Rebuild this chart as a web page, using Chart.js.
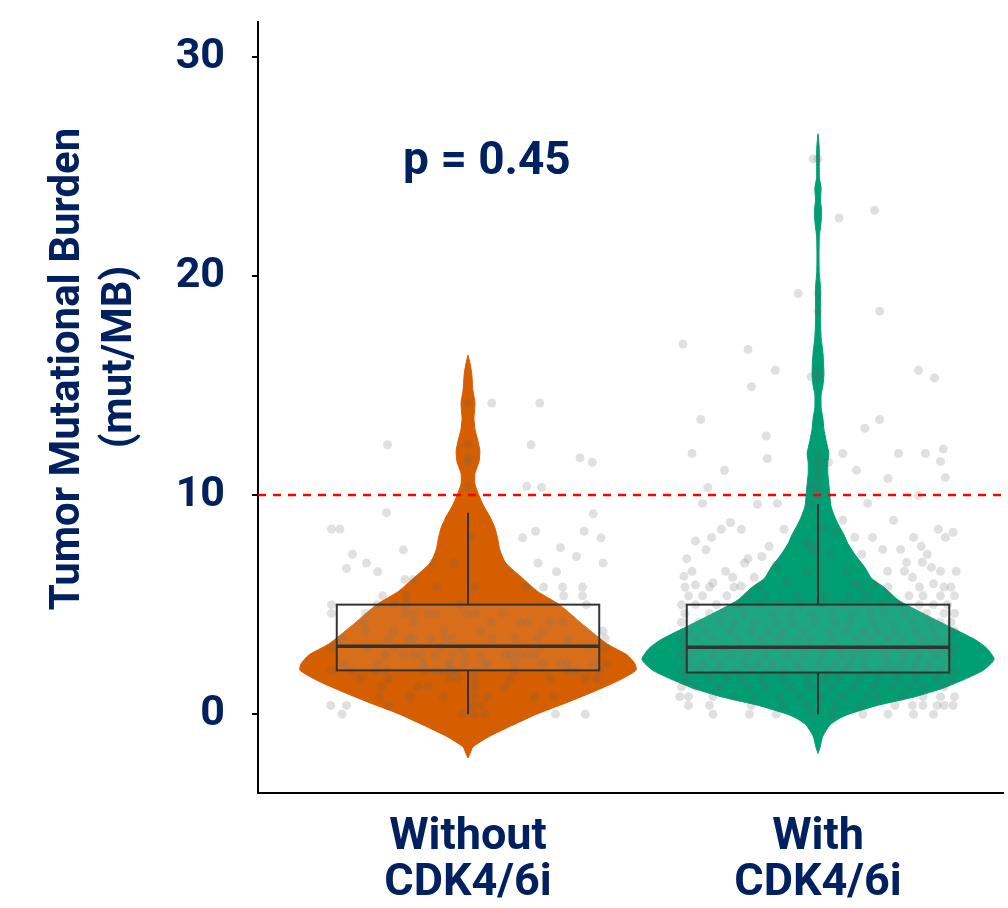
<!DOCTYPE html>
<html>
<head>
<meta charset="utf-8">
<title>TMB by CDK4/6i</title>
<script src="https://cdn.jsdelivr.net/npm/chart.js"></script>
<style>
    html, body { margin: 0; padding: 0; background: #fff; }
    #wrap { width: 1008px; height: 908px; }
</style>
</head>
<body>
<div id="wrap"><canvas id="tmbChart"></canvas></div>
<script>
    const groupLabels = [['Without', 'CDK4/6i'], ['With', 'CDK4/6i']];
    const groupPos = [1, 2];
    const yTicks = [0, 10, 20, 30];
    const cutoff = 10;
    const pLabel = 'p = 0.45';

    // violin outline: tmb level -> half width (x units)
    const violinY0 = [-2.0, -1.8, -1.5, -1.05, -0.5, 0, 0.5, 1.0, 1.5, 2.0, 2.3, 2.7, 3.2, 4.0, 5.0, 5.6, 6.2, 6.9, 7.5, 8.0, 8.5, 9.0, 9.5, 10.0, 10.5, 11.0, 11.5, 12.0, 12.5, 13.0, 13.5, 14.2, 14.8, 15.5, 16.0, 16.4];
    const violinW0 = [0, 0.006, 0.014, 0.057, 0.128, 0.196, 0.278, 0.355, 0.426, 0.48, 0.477, 0.455, 0.398, 0.335, 0.261, 0.199, 0.156, 0.108, 0.091, 0.085, 0.077, 0.063, 0.045, 0.031, 0.02, 0.02, 0.031, 0.034, 0.028, 0.02, 0.017, 0.02, 0.014, 0.011, 0.006, 0];
    const violinY1 = [-1.8, -1.5, -1.0, -0.5, -0.2, 0, 0.4, 0.8, 1.2, 1.6, 2.0, 2.5, 3.0, 3.4, 4.0, 4.6, 5.2, 5.8, 6.2, 6.7, 7.3, 7.8, 8.2, 8.6, 9.0, 9.5, 10.0, 10.5, 11.0, 11.5, 11.9, 12.5, 13.0, 13.5, 14.0, 14.6, 15.0, 15.5, 16.0, 16.5, 17.2, 18.0, 18.8, 19.5, 20.2, 21.0, 21.8, 22.5, 23.0, 23.5, 24.0, 24.5, 25.5, 26.0, 26.5];
    const violinW1 = [0, 0.006, 0.014, 0.034, 0.06, 0.088, 0.17, 0.278, 0.36, 0.42, 0.472, 0.503, 0.483, 0.449, 0.375, 0.3, 0.23, 0.188, 0.153, 0.134, 0.105, 0.085, 0.074, 0.06, 0.048, 0.037, 0.034, 0.031, 0.028, 0.028, 0.031, 0.023, 0.017, 0.014, 0.009, 0.009, 0.014, 0.017, 0.016, 0.014, 0.009, 0.007, 0.007, 0.007, 0.0035, 0.003, 0.004, 0.009, 0.01, 0.007, 0.009, 0.004, 0.004, 0.003, 0];

    // box stats: [low whisker, q1, median, q3, high whisker]
    const box0 = [0, 2.0, 3.1, 5.0, 9.2];
    const box1 = [0, 1.9, 3.05, 5.0, 9.6];
    const boxHalf = 0.375;

    // jittered samples: [offset from group centre, tmb]
    const pts0 = [
        [0.068,14.2],[0.205,14.2],[0,14.2],[-0.23,12.3],[0.18,12.3],[0,12.3],[0.32,11.7],[0.355,11.5],[0,11.7],[0,11.5],
        [0.168,10.4],[0.21,10.35],[0,10.4],[-0.233,9.2],[0.358,9.15],[-0.39,8.45],[-0.366,8.45],[0.332,8.35],[0.193,8.35],
        [0.156,8.05],[0.38,8.05],[0.01,8.1],[-0.185,7.5],[0.264,7.6],[0.31,7.2],[-0.33,7.3],[-0.29,6.9],[0.2,6.9],[0.386,6.9],
        [-0.1,6.9],[-0.04,6.9],[-0.347,6.65],[-0.258,6.5],[0.253,6.5],[-0.18,6.15],[-0.156,6.15],[0.216,5.8],
        [-0.09,5.8],[0.02,5.8],[0.165,5.8],[0.27,5.8],[0.327,5.8],
        [-0.244,5.4],[-0.176,5.4],[0.327,5.4],[0.273,5.4],
        [-0.39,5.0],[-0.26,5.0],[-0.213,5.0],[-0.176,5.0],[-0.023,5.0],[0.338,5.0],
        [-0.39,4.6],[-0.293,4.6],[-0.179,4.6],[-0.156,4.6],[-0.114,4.6],[-0.091,4.6],[-0.003,4.6],[0.02,4.6],[0.1,4.6],
        [-0.298,4.2],[-0.156,4.2],[0.065,4.2],[0.148,4.2],[0.17,4.2],[0.236,4.2],[0.27,4.2],
        [-0.293,3.8],[-0.213,3.8],[-0.071,3.8],[0.037,3.8],[0.213,3.8],[0.386,3.8],
        [-0.36,3.45],[-0.227,3.45],[-0.17,3.45],[-0.156,3.45],[-0.105,3.45],[-0.065,3.45],[-0.043,3.45],[0.071,3.45],[0.134,3.45],[0.199,3.45],[0.287,3.45],[0.392,3.45],
        [-0.39,3.05],[-0.29,3.05],[-0.21,3.05],[-0.077,3.05],[-0.02,3.05],[0.207,3.05],[0.344,3.05],[0.392,3.05],
        [-0.236,2.7],[-0.185,2.7],[-0.156,2.7],[-0.134,2.7],[-0.094,2.7],[-0.043,2.7],[-0.009,2.7],[0.037,2.7],[0.108,2.7],[0.122,2.7],[0.148,2.7],[0.17,2.7],[0.19,2.7],
        [-0.355,2.3],[-0.256,2.3],[-0.128,2.3],[-0.057,2.3],[-0.048,2.3],[-0.009,2.3],[0.043,2.3],[0.057,2.3],[0.134,2.3],[0.213,2.3],[0.264,2.3],[0.284,2.3],[0.361,2.3],[0.398,2.3],
        [-0.392,2.0],[-0.335,2.0],[-0.264,2.0],[-0.233,2.0],[-0.122,2.0],[-0.094,2.0],[-0.077,2.0],[-0.051,2.0],[-0.034,2.0],[0.02,2.0],[0.134,2.0],[0.284,2.0],[0.307,2.0],[0.375,2.0],
        [-0.307,1.6],[-0.227,1.6],[-0.051,1.6],[-0.028,1.6],[0.02,1.6],[0.122,1.6],[0.236,1.6],[0.335,1.6],[0.369,1.6],
        [-0.247,1.25],[-0.145,1.25],[-0.114,1.25],[0.02,1.25],[0.105,1.25],
        [-0.253,0.8],[-0.165,0.8],[-0.071,0.8],[0.02,0.8],[0.057,0.8],[0.19,0.8],[0.244,0.8],
        [-0.392,0.4],[-0.347,0.4],[-0.227,0.4],[0.011,0.4],[0.034,0.4],
        [-0.36,0],[-0.014,0],[0.014,0],[0.048,0],[0.25,0],[0.335,0]
    ];
    const pts1 = [
        [-0.014,25.35],[0,25.35],[0.162,23.0],[0.06,22.65],[-0.057,19.2],[0,19.2],[0.176,18.4],[0,18.4],[-0.386,16.9],[-0.2,16.65],
        [-0.122,15.7],[-0.19,14.95],[0.287,15.7],[0.333,15.35],[-0.02,15.4],[0,15.4],[0,15.7],[-0.335,13.45],[0.176,13.45],[0.134,13.05],
        [-0.148,12.7],[-0.36,11.9],[-0.145,11.67],[0.071,11.9],[0.23,11.9],[0.307,11.9],[0.358,12.1],[0.35,11.54],[0.364,10.8],[-0.267,11.13],
        [0.11,11.13],[0.2,10.76],[-0.315,10.35],[-0.33,9.62],[-0.173,9.58],[-0.116,9.62],[0.142,9.62],[0.287,9.99],[0,11.9],[0,11.5],
        [0,11.1],[0,10.76],[0,10.35],[-0.02,10.35],[0,10.0],[-0.02,9.6],[0.03,11.5],
        [-0.25,8.75],[-0.276,8.44],[-0.219,8.44],[-0.097,8.44],[0.071,8.85],[0.216,8.85],[0.344,8.44],[0.386,8.3],[0.364,8.07],[-0.35,7.9],
        [-0.304,8.07],[-0.14,7.66],[0.105,8.07],[0.156,8.07],[0.273,8.07],[0.295,7.66],[0.185,7.52],[0.236,7.52],[0.125,7.3],[0.312,7.3],
        [-0.375,7.1],[-0.2,7.1],[-0.21,6.9],[0.253,6.93],[0.298,6.93],[0.324,6.7],[0.35,6.52],[0.395,6.52],[-0.36,6.52],[-0.264,6.52],
        [0.199,6.52],[0.247,6.52],[0.27,6.25],[-0.383,6.3],[-0.244,6.25],[-0.182,6.25],[-0.037,7.9],[-0.025,7.7],[-0.014,7.5],[0.034,7.3],
        [0.017,8.5],[0.05,8.3],[-0.034,6.52],[0.08,6.52],
        [-0.32,7.5],[-0.16,7.2],[-0.12,6.8],[-0.3,6.0],[-0.35,5.9],[-0.22,5.85],[-0.09,6.1],[0.1,6.0],[0.16,5.9],[0.33,5.95],[0.38,5.8],
        [-0.38,5.8],[-0.31,5.8],[-0.24,5.8],[-0.17,5.8],[0.12,5.8],[0.2,5.8],[0.29,5.8],[0.36,5.8],
        [-0.37,5.4],[-0.33,5.4],[-0.26,5.4],[-0.2,5.4],[-0.15,5.4],[-0.06,5.4],[0.02,5.4],[0.09,5.4],[0.14,5.4],[0.2,5.4],[0.26,5.4],[0.3,5.4],[0.35,5.4],[0.39,5.4],
        [-0.39,5.0],[-0.35,5.0],[-0.29,5.0],[-0.22,5.0],[-0.17,5.0],[-0.11,5.0],[-0.05,5.0],[0.01,5.0],[0.07,5.0],[0.12,5.0],[0.18,5.0],[0.23,5.0],[0.29,5.0],[0.33,5.0],[0.37,5.0],
        [-0.38,4.6],[-0.31,4.6],[-0.27,4.6],[-0.21,4.6],[-0.13,4.6],[-0.08,4.6],[-0.02,4.6],[0.04,4.6],[0.1,4.6],[0.15,4.6],[0.19,4.6],[0.25,4.6],[0.31,4.6],[0.36,4.6],[0.39,4.6],
        [-0.39,4.2],[-0.34,4.2],[-0.28,4.2],[-0.24,4.2],[-0.18,4.2],[-0.12,4.2],[-0.07,4.2],[-0.01,4.2],[0.05,4.2],[0.09,4.2],[0.16,4.2],[0.21,4.2],[0.27,4.2],[0.32,4.2],[0.35,4.2],[0.38,4.2],
        [-0.37,3.8],[-0.32,3.8],[-0.25,3.8],[-0.19,3.8],[-0.14,3.8],[-0.1,3.8],[-0.04,3.8],[0.03,3.8],[0.08,3.8],[0.13,3.8],[0.17,3.8],[0.22,3.8],[0.28,3.8],[0.33,3.8],[0.39,3.8],
        [-0.39,3.45],[-0.35,3.45],[-0.3,3.45],[-0.23,3.45],[-0.16,3.45],[-0.11,3.45],[-0.06,3.45],[-0.02,3.45],[0.04,3.45],[0.11,3.45],[0.15,3.45],[0.2,3.45],[0.24,3.45],[0.3,3.45],[0.34,3.45],[0.37,3.45],
        [-0.38,3.05],[-0.33,3.05],[-0.27,3.05],[-0.22,3.05],[-0.18,3.05],[-0.12,3.05],[-0.08,3.05],[-0.03,3.05],[0.02,3.05],[0.06,3.05],[0.12,3.05],[0.18,3.05],[0.23,3.05],[0.27,3.05],[0.32,3.05],[0.36,3.05],[0.39,3.05],
        [-0.39,2.7],[-0.36,2.7],[-0.3,2.7],[-0.25,2.7],[-0.2,2.7],[-0.15,2.7],[-0.09,2.7],[-0.04,2.7],[0.01,2.7],[0.07,2.7],[0.1,2.7],[0.14,2.7],[0.19,2.7],[0.25,2.7],[0.29,2.7],[0.34,2.7],[0.38,2.7],
        [-0.37,2.3],[-0.33,2.3],[-0.28,2.3],[-0.21,2.3],[-0.17,2.3],[-0.13,2.3],[-0.06,2.3],[0,2.3],[0.05,2.3],[0.09,2.3],[0.13,2.3],[0.2,2.3],[0.24,2.3],[0.28,2.3],[0.32,2.3],[0.37,2.3],
        [-0.39,2.0],[-0.34,2.0],[-0.29,2.0],[-0.24,2.0],[-0.19,2.0],[-0.14,2.0],[-0.1,2.0],[-0.05,2.0],[0.03,2.0],[0.08,2.0],[0.14,2.0],[0.18,2.0],[0.22,2.0],[0.27,2.0],[0.31,2.0],[0.35,2.0],[0.39,2.0],
        [-0.38,1.6],[-0.31,1.6],[-0.26,1.6],[-0.22,1.6],[-0.16,1.6],[-0.1,1.6],[-0.03,1.6],[0.02,1.6],[0.06,1.6],[0.12,1.6],[0.17,1.6],[0.23,1.6],[0.28,1.6],[0.34,1.6],[0.38,1.6],
        [-0.39,1.25],[-0.35,1.25],[-0.28,1.25],[-0.2,1.25],[-0.15,1.25],[-0.08,1.25],[-0.02,1.25],[0.04,1.25],[0.1,1.25],[0.16,1.25],[0.21,1.25],[0.26,1.25],[0.3,1.25],[0.36,1.25],
        [-0.395,0.8],[-0.37,0.8],[-0.3,0.8],[-0.24,0.8],[-0.18,0.8],[-0.11,0.8],[-0.05,0.8],[0.01,0.8],[0.07,0.8],[0.14,0.8],[0.17,0.8],[0.24,0.8],[0.3,0.8],[0.35,0.8],[0.39,0.8],
        [-0.37,0.4],[-0.31,0.4],[-0.19,0.4],[-0.1,0.4],[-0.03,0.4],[0.05,0.4],[0.12,0.4],[0.22,0.4],[0.27,0.4],[0.3,0.4],[0.34,0.4],[0.36,0.4],[0.386,0.4],
        [-0.3,0],[-0.196,0],[-0.12,0],[-0.02,0],[0.04,0],[0.128,0],[0.2,0],[0.273,0],[0.33,0]
    ];

    const navy = '#002060';
    const fillColors = ['#D55E00', '#009E73'];
    const dotColor = 'rgba(100,100,100,0.2)';

    function outline(c, ys, ws) {
        const right = ys.map((y, i) => ({ x: c + ws[i], y: y }));
        const left = ys.map((y, i) => ({ x: c - ws[i], y: y })).reverse();
        return right.concat(left);
    }

    function dots(c, pts) {
        return pts.map(p => ({ x: c + p[0], y: p[1] }));
    }

    const boxes = [box0, box1];

    // box + whiskers, drawn over the violins and dots
    const boxPlugin = {
        id: 'boxes',
        afterDatasetsDraw(chart) {
            const { ctx, scales: { x, y } } = chart;
            ctx.save();
            ctx.strokeStyle = '#333333';
            boxes.forEach((b, i) => {
                const cx = x.getPixelForValue(groupPos[i]);
                const l = x.getPixelForValue(groupPos[i] - boxHalf);
                const r = x.getPixelForValue(groupPos[i] + boxHalf);
                const [lo, q1, med, q3, hi] = b.map(v => y.getPixelForValue(v));
                ctx.lineWidth = 2;
                ctx.beginPath();
                ctx.moveTo(cx, q3); ctx.lineTo(cx, hi);
                ctx.moveTo(cx, q1); ctx.lineTo(cx, lo);
                ctx.stroke();
                ctx.fillStyle = 'rgba(255,255,255,0.1)';
                ctx.fillRect(l, q3, r - l, q1 - q3);
                ctx.strokeRect(l, q3, r - l, q1 - q3);
                ctx.lineWidth = 3.5;
                ctx.beginPath();
                ctx.moveTo(l, med); ctx.lineTo(r, med);
                ctx.stroke();
            });
            ctx.restore();
        },
        afterDraw(chart) {
            const { ctx, scales: { x, y } } = chart;
            ctx.save();
            ctx.fillStyle = navy;
            ctx.textAlign = 'center';
            ctx.textBaseline = 'middle';
            ctx.font = 'bold 46px Roboto';
            ctx.fillText(pLabel, x.getPixelForValue(1.054), y.getPixelForValue(25.2));

            // y title, two lines
            ctx.font = 'bold 42px Roboto';
            ctx.translate(68, 369);
            ctx.rotate(-Math.PI / 2);
            ctx.fillText('Tumor Mutational Burden', 0, 0);
            ctx.fillText('(mut/MB)', 12, 52);
            ctx.restore();
        }
    };

    new Chart(document.getElementById('tmbChart'), {
        type: 'scatter',
        data: {
            datasets: [
                {
                    label: 'cutoff',
                    data: [{ x: 0.4, y: cutoff }, { x: 2.53, y: cutoff }],
                    showLine: true,
                    borderColor: '#ff0000',
                    borderWidth: 2.5,
                    borderDash: [8, 7],
                    pointRadius: 0,
                    order: 0
                },
                {
                    label: 'Without dots',
                    data: dots(groupPos[0], pts0),
                    pointRadius: 4.5,
                    pointBorderWidth: 0,
                    backgroundColor: dotColor,
                    order: 1
                },
                {
                    label: 'With dots',
                    data: dots(groupPos[1], pts1),
                    pointRadius: 4.5,
                    pointBorderWidth: 0,
                    backgroundColor: dotColor,
                    order: 1
                },
                {
                    label: 'Without',
                    data: outline(groupPos[0], violinY0, violinW0),
                    showLine: true,
                    fill: 'shape',
                    backgroundColor: fillColors[0],
                    borderColor: fillColors[0],
                    borderWidth: 1,
                    tension: 0.2,
                    pointRadius: 0,
                    order: 3
                },
                {
                    label: 'With',
                    data: outline(groupPos[1], violinY1, violinW1),
                    showLine: true,
                    fill: 'shape',
                    backgroundColor: fillColors[1],
                    borderColor: fillColors[1],
                    borderWidth: 1,
                    tension: 0.2,
                    pointRadius: 0,
                    order: 3
                }
            ]
        },
        options: {
            responsive: true,
            maintainAspectRatio: false,
            animation: false,
            events: [],
            layout: { padding: { top: 22, right: 0, left: 0, bottom: 0 } },
            plugins: {
                legend: { display: false },
                tooltip: { enabled: false }
            },
            scales: {
                x: {
                    type: 'linear',
                    min: 0.4,
                    max: 2.53,
                    afterBuildTicks: s => { s.ticks = groupPos.map(v => ({ value: v })); },
                    afterFit: s => { s.height = 115; s.paddingLeft = 0; s.paddingRight = 0; },
                    grid: { display: false, drawTicks: false },
                    border: { display: true, color: '#000', width: 2 },
                    ticks: {
                        autoSkip: false,
                        maxRotation: 0,
                        padding: 22,
                        color: navy,
                        font: { family: 'Roboto', size: 45, weight: 'bold', lineHeight: 1.02 },
                        callback: v => groupLabels[groupPos.indexOf(v)]
                    }
                },
                y: {
                    min: -3.6,
                    max: 31.6,
                    afterBuildTicks: s => { s.ticks = yTicks.map(v => ({ value: v })); },
                    afterFit: s => { s.width = 258; s.paddingTop = 0; s.paddingBottom = 0; },
                    grid: { display: true, drawOnChartArea: false, drawTicks: true, tickLength: 6, color: '#000', lineWidth: 2 },
                    border: { display: true, color: '#000', width: 2 },
                    ticks: {
                        padding: 27,
                        color: navy,
                        font: { family: 'Roboto', size: 43, weight: 'bold' }
                    }
                }
            }
        },
        plugins: [boxPlugin]
    });
</script>
</body>
</html>
